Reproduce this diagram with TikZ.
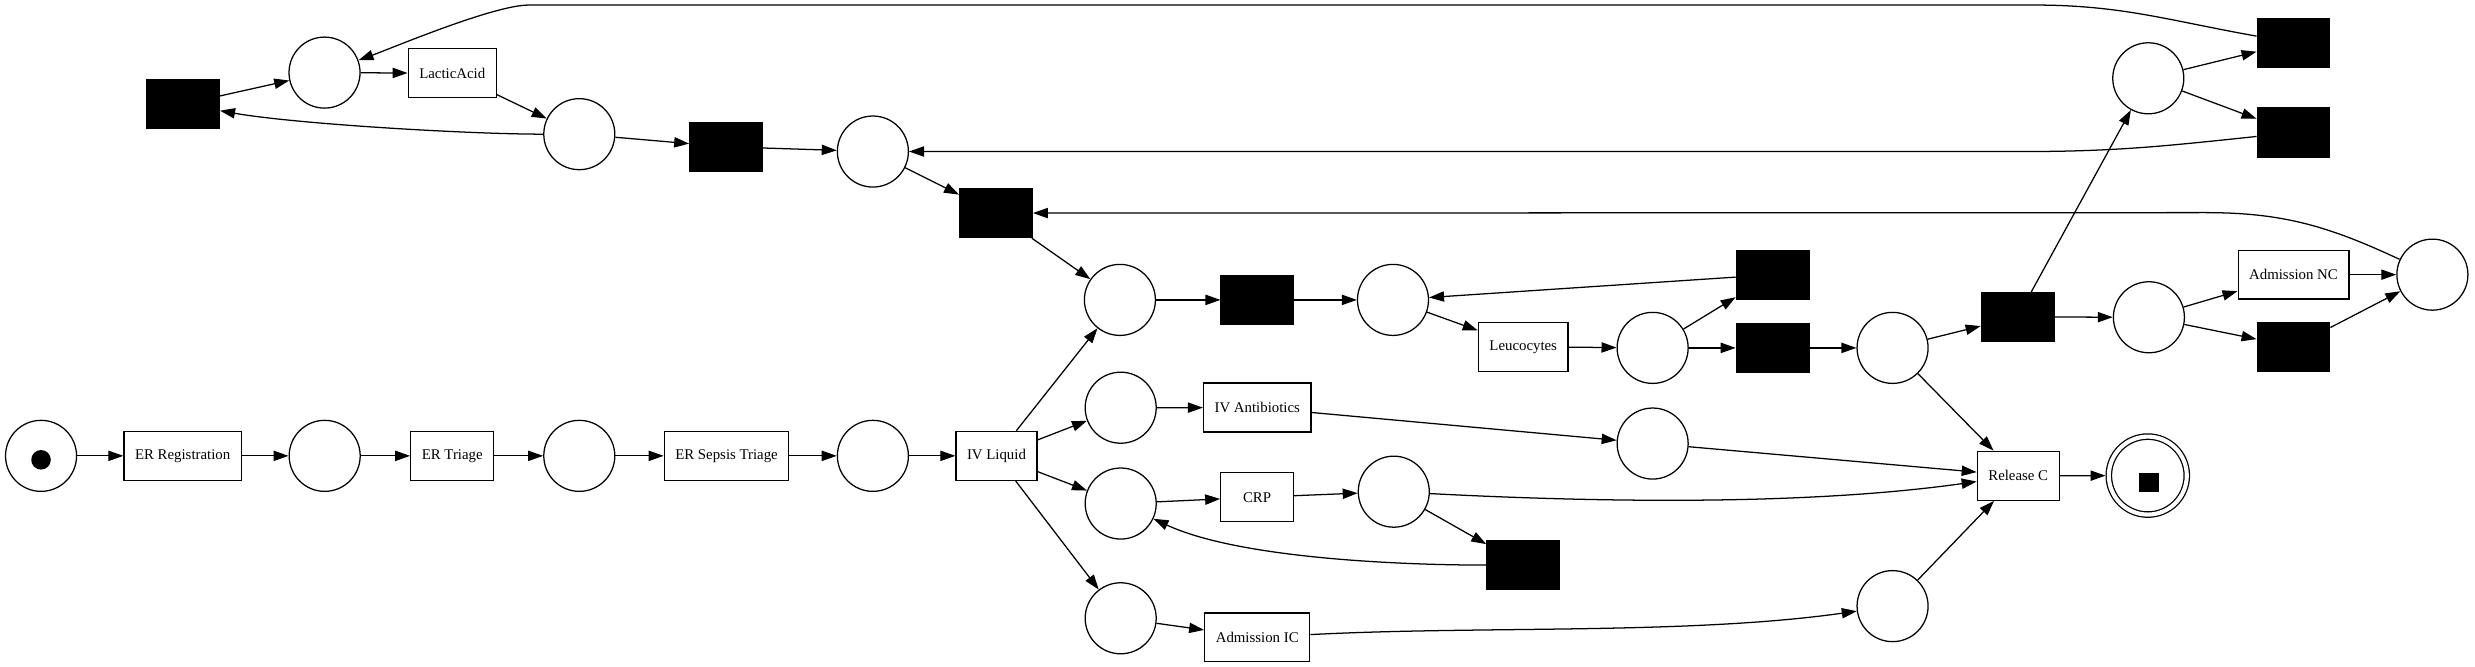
\documentclass[tikz,border=0pt]{standalone}
\usepackage{fontspec}
\setmainfont{Liberation Serif}
\usetikzlibrary{arrows.meta}

\begin{document}
\begin{tikzpicture}[x=1pt, y=-1pt,
    every node/.style={font=\fontsize{9.4}{11}\selectfont, line width=0.8pt},
    place/.style={draw, circle, minimum size=45pt, inner sep=0pt},
    trans/.style={draw, rectangle, minimum width=46pt, minimum height=31pt, inner xsep=7pt, inner ysep=0pt},
    silent/.style={draw, fill=black, rectangle, minimum width=46pt, minimum height=31pt, inner sep=0pt},
    final/.style={draw, circle, double, double distance=2.6pt, minimum size=49.4pt, inner sep=0pt, outer sep=2.1pt},
    tokenmark/.style={circle, fill=black, minimum size=12.4pt, inner sep=0pt},
    endmark/.style={rectangle, fill=black, minimum size=12.3pt, inner sep=0pt},
    arc/.style={-{Triangle[length=9.5pt, width=6.5pt]}, line width=0.8pt}]
    \useasboundingbox (0, 0) rectangle (1568, 422.5);

    \node[place] (p0) at (26, 288.8) {};
    \node[tokenmark] (tok0) at (26, 291.3) {};
    \node[trans] (tErReg) at (115.7, 288.8) {ER Registration};
    \node[place] (p1) at (205.7, 288.8) {};
    \node[trans] (tErTri) at (286.5, 288.8) {ER Triage};
    \node[place] (p2) at (367, 288.8) {};
    \node[trans] (tSeps) at (460.3, 288.8) {ER Sepsis Triage};
    \node[place] (p3) at (553, 288.8) {};
    \node[trans] (tIvl) at (631.3, 288.8) {IV Liquid};

    \node[place] (pAbIn) at (710, 258.3) {};
    \node[trans] (tAb) at (796.5, 258.2) {IV Antibiotics};
    \node[place] (pAbOut) at (1047, 281) {};
    \node[place] (pCrpIn) at (710, 319) {};
    \node[trans] (tCrp) at (796.4, 315) {CRP};
    \node[place] (pCrpOut) at (883, 311.5) {};
    \node[silent] (tJ) at (965, 358) {};
    \node[place] (pAicIn) at (710, 391.7) {};
    \node[trans] (tAic) at (796.5, 403.8) {Admission IC};
    \node[place] (pAicOut) at (1199, 384) {};
    \node[trans] (tRel) at (1278.6, 301.4) {Release C};
    \node[final] (pEnd) at (1360.7, 301.3) {};
    \node[endmark] (tokEnd) at (1361.4, 305.6) {};

    \node[silent] (tA) at (116, 66) {};
    \node[place] (pLaIn) at (205.6, 46) {};
    \node[trans] (tLactic) at (286.5, 46.4) {LacticAcid};
    \node[place] (pLaOut) at (367, 85) {};
    \node[silent] (tB) at (460, 93) {};
    \node[place] (pMid) at (553, 96) {};
    \node[silent] (tC) at (631, 135) {};
    \node[place] (pLc) at (709.5, 190) {};
    \node[silent] (tD) at (796.6, 190) {};
    \node[place] (pLeuIn) at (882.5, 190) {};
    \node[trans] (tLeu) at (965, 219.7) {Leucocytes};
    \node[place] (pL1) at (1047, 220.4) {};
    \node[silent] (tE) at (1123, 174) {};
    \node[silent] (tF) at (1123, 220.4) {};
    \node[place] (pL2) at (1199, 220.4) {};
    \node[silent] (tI) at (1278.2, 200.8) {};
    \node[place] (pNcIn) at (1361.4, 201) {};
    \node[trans] (tAdmNc) at (1453, 174) {Admission NC};
    \node[silent] (tK) at (1453, 219.6) {};
    \node[place] (pNc) at (1541, 174) {};
    \node[place] (pTop) at (1361, 49.6) {};
    \node[silent] (tG) at (1453, 27) {};
    \node[silent] (tH) at (1453, 84) {};

    \draw[arc] (p0) -- (tErReg);
    \draw[arc] (tErReg) -- (p1);
    \draw[arc] (p1) -- (tErTri);
    \draw[arc] (tErTri) -- (p2);
    \draw[arc] (p2) -- (tSeps);
    \draw[arc] (tSeps) -- (p3);
    \draw[arc] (p3) -- (tIvl);
    \draw[arc] (tIvl) -- (pLc);
    \draw[arc] (tIvl) -- (pAbIn);
    \draw[arc] (tIvl) -- (pCrpIn);
    \draw[arc] (tIvl) -- (pAicIn);

    \draw[arc] (pAbIn) -- (tAb);
    \draw[arc] (tAb) -- (pAbOut);
    \draw[arc] (pAbOut) -- (tRel);
    \draw[arc] (pCrpIn) -- (tCrp);
    \draw[arc] (tCrp) -- (pCrpOut);
    \draw[arc] (pCrpOut) to[out=-3, in=188, looseness=0.8] (tRel);
    \draw[arc] (pCrpOut) -- (tJ);
    \draw[arc] (tJ) to[out=180, in=-25, looseness=0.7] (pCrpIn);
    \draw[arc] (pAicIn) -- (tAic);
    \draw[arc] (tAic) to[out=3, in=188, looseness=0.8] (pAicOut);
    \draw[arc] (pAicOut) -- (tRel);
    \draw[arc] (tRel) -- (pEnd);

    \draw[arc] (pLc) -- (tD);
    \draw[arc] (tD) -- (pLeuIn);
    \draw[arc] (pLeuIn) -- (tLeu);
    \draw[arc] (tLeu) -- (pL1);
    \draw[arc] (pL1) -- (tE);
    \draw[arc] (tE) -- (pLeuIn);
    \draw[arc] (pL1) -- (tF);
    \draw[arc] (tF) -- (pL2);
    \draw[arc] (pL2) -- (tI);
    \draw[arc] (pL2) -- (tRel);
    \draw[arc] (tI) -- (pNcIn);
    \draw[arc] (tI) -- (pTop);
    \draw[arc] (pNcIn) -- (tAdmNc);
    \draw[arc] (pNcIn) -- (tK);
    \draw[arc] (tAdmNc) -- (pNc);
    \draw[arc] (tK) -- (pNc);
    \draw[arc] (pNc) to[out=155, in=0] (1397, 134.7) -- (tC);
    \draw[arc] (pTop) -- (tG);
    \draw[arc] (pTop) -- (tH);
    \draw[arc] (tG) to[out=170, in=0] (1289, 3.2) -- (335, 3.2) to[out=180, in=20, looseness=0.5] (pLaIn);
    \draw[arc] (tH) to[out=186, in=0] (1283, 96) -- (pMid);

    \draw[arc] (tC) -- (pLc);
    \draw[arc] (pMid) -- (tC);
    \draw[arc] (tB) -- (pMid);
    \draw[arc] (pLaOut) -- (tB);
    \draw[arc] (pLaOut) to[out=180, in=-10, looseness=0.6] (tA);
    \draw[arc] (tA) -- (pLaIn);
    \draw[arc] (pLaIn) -- (tLactic);
    \draw[arc] (tLactic) -- (pLaOut);
\end{tikzpicture}
\end{document}
